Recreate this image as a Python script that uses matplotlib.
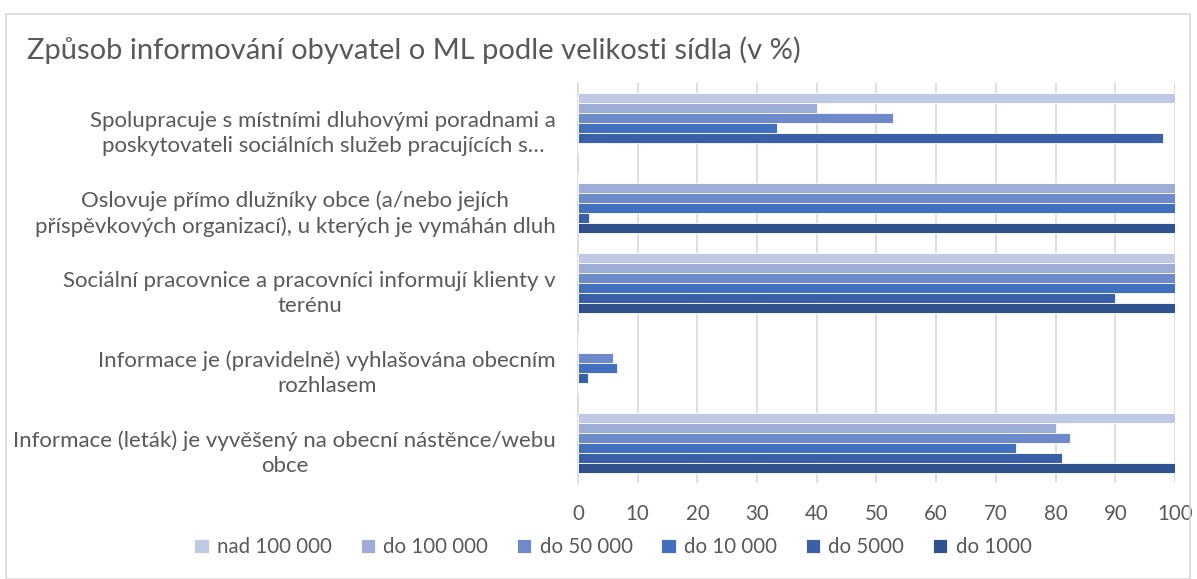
import matplotlib
matplotlib.use("Agg")
import matplotlib.pyplot as plt
import matplotlib.transforms as mtransforms
import numpy as np
from matplotlib.patches import Rectangle

categories = [
    "Spolupracuje s místními dluhovými poradnami a\nposkytovateli sociálních služeb pracujících s…",
    "Oslovuje přímo dlužníky obce (a/nebo jejích\npříspěvkových organizací), u kterých je vymáhán dluh",
    "Sociální pracovnice a pracovníci informují klienty v\nterénu",
    "Informace je (pravidelně) vyhlašována obecním\nrozhlasem",
    "Informace (leták) je vyvěšený na obecní nástěnce/webu\nobce",
]
series_names = ["nad 100 000", "do 100 000", "do 50 000", "do 10 000", "do 5000", "do 1000"]
nad_100000 = [100, 0, 100, 0, 100]
do_100000 = [40, 100, 100, 0, 80]
do_50000 = [52.8, 100, 100, 5.8, 82.4]
do_10000 = [33.3, 100, 100, 6.6, 73.3]
do_5000 = [98, 1.8, 90, 1.7, 81.1]
do_1000 = [0, 100, 100, 0, 100]
xticks = [0, 10, 20, 30, 40, 50, 60, 70, 80, 90, 100]

series = [nad_100000, do_100000, do_50000, do_10000, do_5000, do_1000]
colors = ["#BFC9E3", "#9DADD8", "#6F8ACB", "#4170BE", "#3A60A8", "#2F528F"]

plt.rcParams['font.family'] = ['Lato', 'DejaVu Sans']
fig = plt.figure(figsize=(11.97, 5.79), dpi=100)
W, H = 1197, 579
# outer chart border
fig.patches.append(Rectangle((6 / W, 0), (1190 - 6) / W, 1 - 14 / H, transform=fig.transFigure,
                             fill=False, edgecolor="#D9D9D9", linewidth=1.2))

ax = fig.add_axes([578 / W, 1 - 483 / H, (1175 - 578) / W, 400 / H])
n = len(series)
bh = 0.125
y = np.arange(len(categories))
for i, (vals, c, name) in enumerate(zip(series, colors, series_names)):
    offs = (i - (n - 1) / 2) * bh
    ax.barh(y + offs, vals, height=bh, color=c, edgecolor="white", linewidth=0.6, label=name, zorder=3)

ax.set_ylim(len(categories) - 0.5, -0.5)
ax.set_xlim(0, 100)
ax.set_xticks(xticks)
ax.set_xticklabels([str(t) for t in xticks], fontsize=14.8, color="#595959")
ax.set_yticks(y)
ax.set_yticklabels(categories, fontsize=16, color="#595959", linespacing=1.3,
                   multialignment="center")
ax.tick_params(axis="both", length=0)
ax.tick_params(axis="y", pad=16)
ax.tick_params(axis="x", pad=15)
ax.grid(axis="x", color="#D9D9D9", linewidth=1.2, zorder=0)
for s in ["top", "right", "bottom"]:
    ax.spines[s].set_visible(False)
ax.spines["left"].set_color("#D9D9D9")
ax.spines["left"].set_linewidth(1.2)

shift = mtransforms.ScaledTranslation(0, -6 / 100, fig.dpi_scale_trans)
for lab in ax.get_yticklabels():
    lab.set_transform(lab.get_transform() + shift)

fig.text(27 / W, 1 - 50 / H, "Způsob informování obyvatel o ML podle velikosti sídla (v %)",
         fontsize=21, color="#595959", va="center", ha="left", family=['Lato', 'DejaVu Sans'])

fig.legend(loc="center", bbox_to_anchor=(613 / W, 1 - 547 / H), ncol=6, frameon=False,
           fontsize=14.8, labelcolor="#595959", handlelength=0.7, handleheight=0.7,
           handletextpad=0.4, columnspacing=1.4)

fig.savefig("out.png", dpi=100)
